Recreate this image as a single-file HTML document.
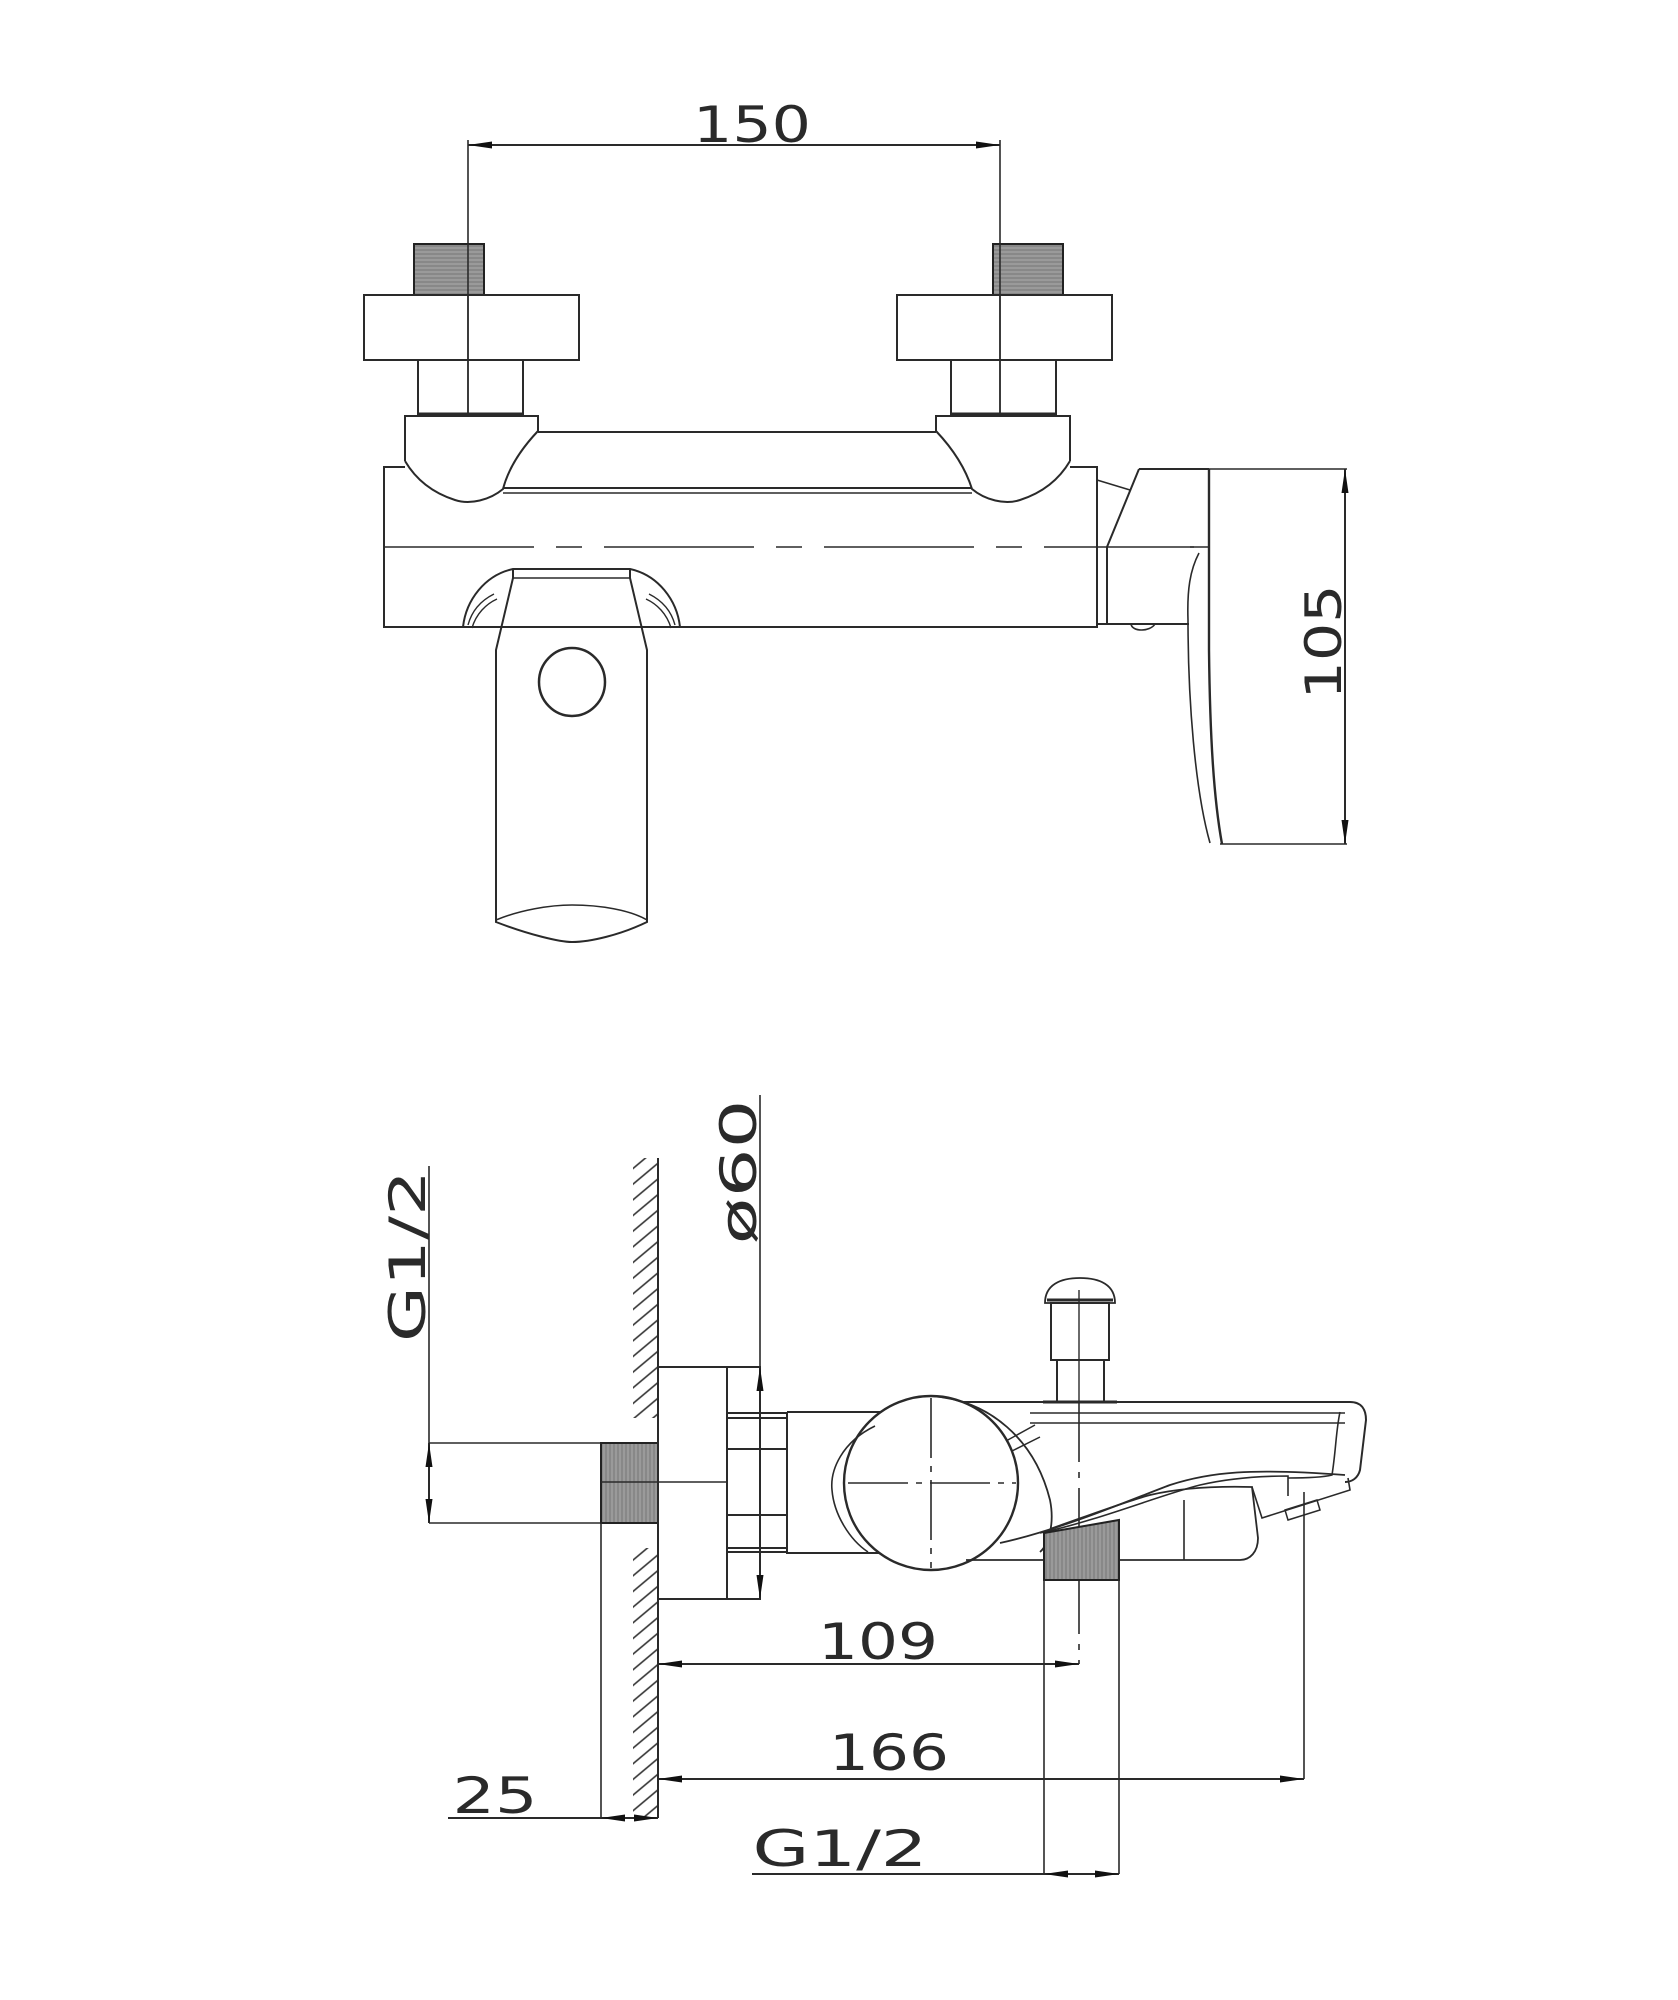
<!DOCTYPE html>
<html><head><meta charset="utf-8"><style>
html,body{margin:0;padding:0;background:#fff}
svg{display:block}
text{font-family:"DejaVu Sans","Liberation Sans",sans-serif;fill:#2a2a2a}
</style></head><body>
<svg width="1678" height="2000" viewBox="0 0 1678 2000" xmlns="http://www.w3.org/2000/svg">
<defs>
<marker id="a" viewBox="0 0 24 10" refX="24" refY="5" markerWidth="24" markerHeight="10" orient="auto-start-reverse" markerUnits="userSpaceOnUse"><path d="M0,1.5 L24,5 L0,8.5 Z" fill="#111"/></marker>
<pattern id="th" width="4" height="4" patternUnits="userSpaceOnUse"><rect width="4" height="4" fill="#9a9a9a"/><path d="M0,2 H4" stroke="#777" stroke-width="1"/></pattern>
<pattern id="tv" width="4" height="4" patternUnits="userSpaceOnUse"><rect width="4" height="4" fill="#9a9a9a"/><path d="M2,0 V4" stroke="#777" stroke-width="1"/></pattern>
<pattern id="hatch" width="12" height="12" patternUnits="userSpaceOnUse" patternTransform="rotate(-40)"><path d="M0,6 H12" stroke="#333" stroke-width="1.6"/></pattern>
</defs>
<g fill="none" stroke="#2a2a2a" stroke-width="2">
<!-- ============ TOP VIEW ============ -->
<line x1="468" y1="145" x2="1000" y2="145" marker-start="url(#a)" marker-end="url(#a)"/>
<line x1="468" y1="140" x2="468" y2="415" stroke-width="1.6"/>
<line x1="1000" y1="140" x2="1000" y2="415" stroke-width="1.6"/>
<rect x="414" y="244" width="70" height="51" fill="url(#th)" stroke="#222"/>
<rect x="993" y="244" width="70" height="51" fill="url(#th)" stroke="#222"/>
<line x1="468" y1="244" x2="468" y2="415" stroke-width="1.6"/>
<line x1="1000" y1="244" x2="1000" y2="415" stroke-width="1.6"/>
<rect x="364" y="295" width="215" height="65"/>
<rect x="897" y="295" width="215" height="65"/>
<rect x="418" y="360" width="105" height="56"/>
<rect x="951" y="360" width="105" height="56"/>
<line x1="418" y1="414" x2="523" y2="414" stroke-width="3"/>
<line x1="951" y1="414" x2="1056" y2="414" stroke-width="3"/>
<path d="M405,461 V416 H538 V431 C520,450 508,470 503,489 C490,500 470,505 455,500 C430,492 415,478 405,461"/>
<path d="M1070,461 V416 H936 V431 C954,450 966,470 972,489 C985,500 1005,505 1020,500 C1045,492 1060,478 1070,461"/>
<line x1="538" y1="432" x2="936" y2="432"/>
<line x1="503" y1="488" x2="972" y2="488"/>
<line x1="503" y1="493" x2="972" y2="493" stroke-width="1.5"/>
<path d="M405,467 H384 V627 H1097 V467 H1070"/>
<line x1="384" y1="547" x2="1210" y2="547" stroke-dasharray="150,22,26,22" stroke-width="1.6"/>
<!-- handle -->
<path d="M463,627 C466,600 485,575 513,569 H630 C658,575 677,600 680,627"/>
<path d="M468,625 C472,610 482,600 494,594 M472,628 C476,614 486,604 497,599" stroke-width="1.4"/>
<path d="M675,625 C671,610 661,600 649,594 M671,628 C667,614 657,604 646,599" stroke-width="1.4"/>
<line x1="513" y1="578" x2="630" y2="578" stroke-width="1.6"/>
<path d="M513,569 V578 L496,650 V922 C530,935 560,942 572,942 C590,942 620,935 647,922 V650 L630,578 V569"/>
<path d="M496,920 C520,910 550,905 572,905 C600,905 630,910 647,920" stroke-width="1.5"/>
<ellipse cx="572" cy="682" rx="33" ry="34" stroke-width="2.5"/>
<!-- spout side -->
<path d="M1097,480 L1130,490" stroke-width="1.6"/>
<path d="M1139,469 H1209 M1139,469 L1107,547 V624 H1189" />
<line x1="1097" y1="624" x2="1107" y2="624"/>
<path d="M1131,624 C1132,632 1150,632 1155,624" stroke-width="1.6"/>
<line x1="1209" y1="469" x2="1209" y2="650" stroke-width="2.4"/>
<path d="M1209,650 C1210,740 1214,800 1222,844" stroke-width="2.4"/>
<path d="M1199,553 C1190,570 1187,590 1188,620 C1188,700 1195,790 1210,843" stroke-width="1.6"/>
<path d="M1190,547 H1210" stroke-width="1.6"/>
<path d="M1209,469 H1347 M1220,844 H1347" stroke-width="1.6"/>
<line x1="1345" y1="469" x2="1345" y2="844" marker-start="url(#a)" marker-end="url(#a)"/>
<!-- ============ SIDE VIEW ============ -->
<line x1="429" y1="1166" x2="429" y2="1523" stroke-width="1.6"/>
<line x1="429" y1="1443" x2="601" y2="1443" stroke-width="1.6"/>
<line x1="429" y1="1523" x2="601" y2="1523" stroke-width="1.6"/>
<line x1="429" y1="1443" x2="429" y2="1523" marker-start="url(#a)" marker-end="url(#a)"/>
<rect x="633" y="1158" width="25" height="260" fill="url(#hatch)" stroke="none"/>
<rect x="633" y="1548" width="25" height="270" fill="url(#hatch)" stroke="none"/>
<line x1="658" y1="1158" x2="658" y2="1818"/>
<rect x="601" y="1443" width="57" height="80" fill="url(#tv)" stroke="#222"/>
<line x1="601" y1="1482" x2="727" y2="1482" stroke-width="1.6"/>
<line x1="601" y1="1523" x2="601" y2="1818" stroke-width="1.6"/>
<rect x="658" y="1367" width="69" height="232"/>
<rect x="727" y="1367" width="33" height="232"/>
<line x1="760" y1="1095" x2="760" y2="1367" stroke-width="1.6"/>
<line x1="760" y1="1367" x2="760" y2="1599" marker-start="url(#a)" marker-end="url(#a)"/>
<rect x="727" y="1413" width="60" height="139"/>
<line x1="727" y1="1418" x2="787" y2="1418"/>
<line x1="727" y1="1449" x2="787" y2="1449"/>
<line x1="727" y1="1515" x2="787" y2="1515"/>
<line x1="727" y1="1548" x2="787" y2="1548"/>
<path d="M787,1412 H880 M787,1412 V1553 H880"/>
<path d="M875,1426 C842,1442 830,1470 832,1490 C834,1515 850,1540 868,1552" stroke-width="1.6"/>
<circle cx="931" cy="1483" r="87" stroke-width="2.4"/>
<line x1="848" y1="1483" x2="1016" y2="1483" stroke-dasharray="60,8,6,8" stroke-width="1.6"/>
<line x1="931" y1="1398" x2="931" y2="1568" stroke-dasharray="60,8,6,8" stroke-width="1.6"/>
<path d="M931,1396 C990,1400 1035,1440 1050,1500 C1055,1525 1048,1545 1040,1552" stroke-width="1.8"/>
<path d="M1006,1441 L1035,1425 M1012,1451 L1040,1437" stroke-width="1.5"/>
<path d="M962,1402 H1350 C1362,1402 1366,1410 1366,1420 L1360,1470 C1358,1478 1352,1482 1345,1482"/>
<path d="M1030,1413 H1345 M1030,1423 H1345" stroke-width="1.6"/>
<path d="M1340,1412 C1336,1430 1336,1450 1332,1475 C1320,1478 1300,1478 1288,1478" stroke-width="1.6"/>
<path d="M1000,1543 C1060,1530 1130,1500 1170,1485 C1210,1472 1250,1468 1345,1475" stroke-width="1.8"/>
<path d="M1040,1533 C1100,1520 1160,1495 1200,1485 C1230,1478 1260,1476 1288,1476 V1496" stroke-width="1.6"/>
<path d="M1050,1529 C1090,1515 1130,1500 1150,1495 C1180,1488 1215,1486 1252,1487 L1258,1538 C1258,1552 1250,1560 1240,1560 H966" stroke-width="1.8"/>
<path d="M1252,1487 L1262,1518 L1350,1490 L1348,1478" stroke-width="1.6"/>
<path d="M1285,1510 L1317,1500 L1320,1510 L1288,1520 Z" stroke-width="1.5"/>
<line x1="1184" y1="1500" x2="1184" y2="1560" stroke-width="1.6"/>
<path d="M1045,1303 C1045,1285 1060,1278 1080,1278 C1100,1278 1115,1285 1115,1303 Z" stroke-width="1.8"/>
<line x1="1047" y1="1300" x2="1113" y2="1300" stroke-width="3"/>
<rect x="1051" y="1303" width="58" height="57"/>
<rect x="1057" y="1360" width="47" height="42"/>
<line x1="1043" y1="1402" x2="1117" y2="1402" stroke-width="3"/>
<line x1="1079" y1="1290" x2="1079" y2="1402" stroke-width="1.4"/>
<line x1="1079" y1="1402" x2="1079" y2="1664" stroke-dasharray="60,10,6,10" stroke-width="1.6"/>
<path d="M1044,1533 L1119,1520 V1580 H1044 Z" fill="url(#tv)" stroke="#222"/>
<line x1="1044" y1="1580" x2="1044" y2="1874" stroke-width="1.6"/>
<line x1="1119" y1="1580" x2="1119" y2="1874" stroke-width="1.6"/>
<line x1="1304" y1="1492" x2="1304" y2="1779" stroke-width="1.6"/>
<line x1="658" y1="1664" x2="1079" y2="1664" marker-start="url(#a)" marker-end="url(#a)"/>
<line x1="658" y1="1779" x2="1304" y2="1779" marker-start="url(#a)" marker-end="url(#a)"/>
<line x1="448" y1="1818" x2="658" y2="1818"/>
<line x1="601" y1="1818" x2="629" y2="1818" marker-start="url(#a)"/>
<line x1="630" y1="1818" x2="658" y2="1818" marker-end="url(#a)"/>
<line x1="752" y1="1874" x2="1119" y2="1874"/>
<line x1="1044" y1="1874" x2="1080" y2="1874" marker-start="url(#a)"/>
<line x1="1082" y1="1874" x2="1119" y2="1874" marker-end="url(#a)"/>
</g>
<g font-size="50">
<text x="752" y="142" text-anchor="middle" textLength="118" lengthAdjust="spacingAndGlyphs">150</text>
<text transform="translate(1341,642) rotate(-90)" text-anchor="middle" textLength="115" lengthAdjust="spacingAndGlyphs">105</text>
<text transform="translate(425,1256) rotate(-90)" text-anchor="middle" textLength="172" lengthAdjust="spacingAndGlyphs">G1/2</text>
<text transform="translate(756,1172) rotate(-90)" text-anchor="middle" textLength="145" lengthAdjust="spacingAndGlyphs">ø60</text>
<text x="878" y="1659" text-anchor="middle" textLength="120" lengthAdjust="spacingAndGlyphs">109</text>
<text x="889" y="1770" text-anchor="middle" textLength="120" lengthAdjust="spacingAndGlyphs">166</text>
<text x="495" y="1813" text-anchor="middle" textLength="85" lengthAdjust="spacingAndGlyphs">25</text>
<text x="840" y="1866" text-anchor="middle" textLength="175" lengthAdjust="spacingAndGlyphs">G1/2</text>
</g>
</svg>
</body></html>
